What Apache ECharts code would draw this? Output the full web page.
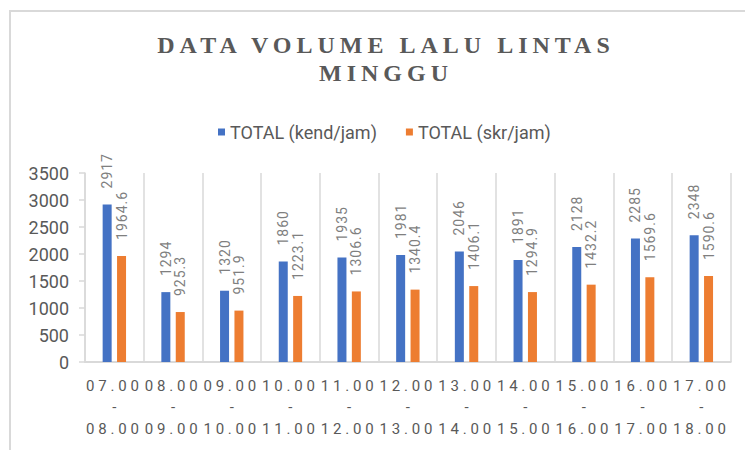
<!DOCTYPE html>
<html>
<head>
<meta charset="utf-8">
<script src="https://cdn.jsdelivr.net/npm/echarts@6/dist/echarts.min.js"></script>
<style>
html,body{margin:0;padding:0;background:#fff;}
#c{width:745px;height:450px;}
</style>
</head>
<body>
<div id="c"></div>
<script>
// ---- data ----
const titleLines = ['DATA VOLUME LALU LINTAS', 'MINGGU'];
const categories = ['07.00\n-\n08.00','08.00\n-\n09.00','09.00\n-\n10.00','10.00\n-\n11.00','11.00\n-\n12.00','12.00\n-\n13.00','13.00\n-\n14.00','14.00\n-\n15.00','15.00\n-\n16.00','16.00\n-\n17.00','17.00\n-\n18.00'];
const seriesNames = ['TOTAL (kend/jam)', 'TOTAL (skr/jam)'];
const kendValues = [2917, 1294, 1320, 1860, 1935, 1981, 2046, 1891, 2128, 2285, 2348];
const skrValues = [1964.6, 925.3, 951.9, 1223.1, 1306.6, 1340.4, 1406.1, 1294.9, 1432.2, 1569.6, 1590.6];
const yTicks = [0, 500, 1000, 1500, 2000, 2500, 3000, 3500];

const dom = document.getElementById('c');
const chart = echarts.init(dom, null, {renderer: 'svg'});
const gray = '#595959';
const lineGray = '#d9d9d9';

const labelCfg = {
  show: true,
  position: 'top',
  distance: 16,
  rotate: 90,
  align: 'left',
  verticalAlign: 'middle',
  color: '#7f7f7f',
  fontFamily: 'Roboto',
  fontSize: 14
};

chart.setOption({
  animation: false,
  backgroundColor: '#fff',
  graphic: [{
    type: 'rect',
    shape: {x: 10, y: 11, width: 800, height: 500},
    style: {fill: 'none', stroke: lineGray, lineWidth: 2},
    silent: true,
    z: -10
  }],
  title: {
    text: titleLines.join('\n'),
    left: 381,
    top: 26,
    textAlign: 'center',
    textStyle: {
      fontFamily: 'Liberation Serif',
      fontWeight: 'bold',
      fontSize: 24,
      lineHeight: 28,
      color: gray
    }
  },
  legend: {
    data: seriesNames,
    left: 213,
    top: 118,
    itemWidth: 7,
    itemHeight: 7,
    itemGap: 29,
    icon: 'rect',
    textStyle: {fontFamily: 'Roboto', fontSize: 18, color: gray}
  },
  grid: {left: 85, right: 14.3, top: 173, bottom: 88, containLabel: false},
  xAxis: {
    type: 'category',
    data: categories,
    boundaryGap: true,
    axisLine: {show: true, lineStyle: {color: lineGray, width: 2}},
    axisTick: {show: false},
    splitLine: {show: true, interval: 0, lineStyle: {color: lineGray, width: 1.5}},
    axisLabel: {
      interval: 0,
      margin: 13,
      color: gray,
      fontFamily: 'Roboto',
      fontSize: 15,
      lineHeight: 21.5
    }
  },
  yAxis: {
    type: 'value',
    min: yTicks[0],
    max: yTicks[yTicks.length - 1],
    interval: yTicks[1] - yTicks[0],
    axisLine: {show: true, lineStyle: {color: lineGray, width: 1.5}},
    axisTick: {show: true, length: 6, lineStyle: {color: lineGray, width: 1.5}},
    splitLine: {show: false},
    axisLabel: {
      margin: 16, color: gray, fontFamily: 'Roboto', fontSize: 18,
      formatter: function (v) { return String(v); }
    }
  },
  series: [
    {
      name: seriesNames[0],
      type: 'bar',
      data: kendValues,
      barWidth: 9,
      barGap: '60%',
      itemStyle: {color: '#4472C4'},
      label: labelCfg
    },
    {
      name: seriesNames[1],
      type: 'bar',
      data: skrValues,
      barWidth: 9,
      itemStyle: {color: '#ED7D31'},
      label: labelCfg
    }
  ]
});

// Excel-style expanded character spacing
const dataLabelSet = new Set(kendValues.concat(skrValues).map(String));
function applySpacing() {
  dom.querySelectorAll('text').forEach(function (t) {
    const s = t.textContent;
    if (titleLines.indexOf(s) >= 0) t.style.letterSpacing = '5px';
    else if (/^\d\d\.\d\d$/.test(s)) t.style.letterSpacing = '3.8px';
    else if (dataLabelSet.has(s)) t.style.letterSpacing = '1px';
  });
}
applySpacing();
chart.on('finished', applySpacing);
</script>
</body>
</html>
